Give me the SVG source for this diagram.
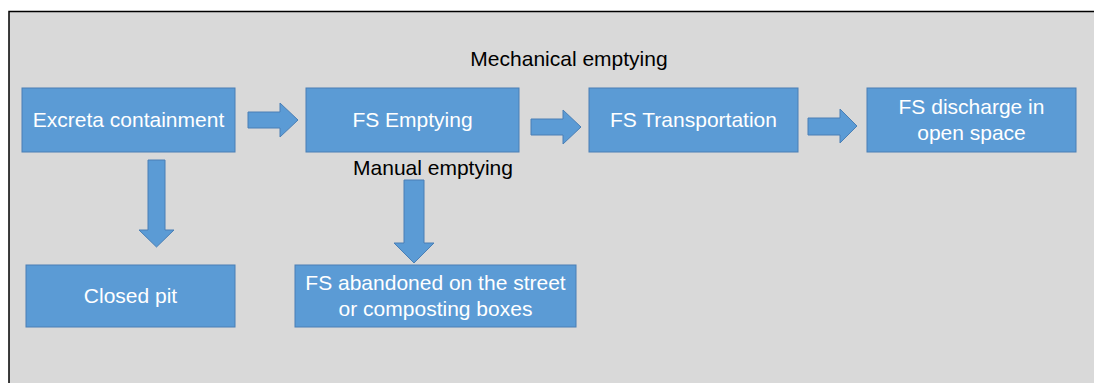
<svg xmlns="http://www.w3.org/2000/svg" width="1094" height="383" viewBox="0 0 1094 383">
<style>
.box{fill:#5B9BD5;stroke:#4A7FB5;stroke-width:1}
.arr{fill:#5B9BD5;stroke:#4A7FB5;stroke-width:1}
.wt{font-family:"Liberation Sans",Arial,sans-serif;font-size:21px;fill:#FFFFFF;text-anchor:middle}
.bt{font-family:"Liberation Sans",Arial,sans-serif;font-size:21px;fill:#000000;text-anchor:middle}
</style>
<rect x="0" y="0" width="1094" height="383" fill="#FFFFFF"/>
<rect x="9" y="11.5" width="1095" height="380" fill="#D9D9D9" stroke="#000000" stroke-width="1.5"/>
<g id="connectors">
<polygon class="arr" points="248,112 280,112 280,103 298,120 280,137 280,128 248,128"/>
<polygon class="arr" points="531,119 563,119 563,110 581,127 563,144 563,135 531,135"/>
<polygon class="arr" points="808,118 840,118 840,109 857,126 840,143 840,135 808,135"/>
<polygon class="arr" points="148,160 165,160 165,230 174,230 156.5,247 139,230 148,230"/>
<polygon class="arr" points="404,180 424,180 424,243 434,243 414,263 394,243 404,243"/>
</g>
<g id="label-mechanical"><text class="bt" x="569" y="66">Mechanical emptying</text></g>
<g id="label-manual"><text class="bt" x="433" y="175">Manual emptying</text></g>
<g id="excreta">
<rect class="box" x="22" y="88" width="213" height="64"/>
<text class="wt" x="128.5" y="127">Excreta containment</text>
</g>
<g id="emptying">
<rect class="box" x="306" y="88" width="213" height="64"/>
<text class="wt" x="412.5" y="127">FS Emptying</text>
</g>
<g id="transportation">
<rect class="box" x="589" y="88" width="209" height="64"/>
<text class="wt" x="693.5" y="127">FS Transportation</text>
</g>
<g id="discharge">
<rect class="box" x="867" y="88" width="209" height="64"/>
<text class="wt" x="971.5" y="114">FS discharge in</text>
<text class="wt" x="971.5" y="140">open space</text>
</g>
<g id="closed-pit">
<rect class="box" x="26" y="265" width="209" height="62"/>
<text class="wt" x="130.5" y="303">Closed pit</text>
</g>
<g id="abandoned">
<rect class="box" x="295" y="265" width="281" height="62"/>
<text class="wt" x="435.5" y="290">FS abandoned on the street</text>
<text class="wt" x="435.5" y="316">or composting boxes</text>
</g>
</svg>
